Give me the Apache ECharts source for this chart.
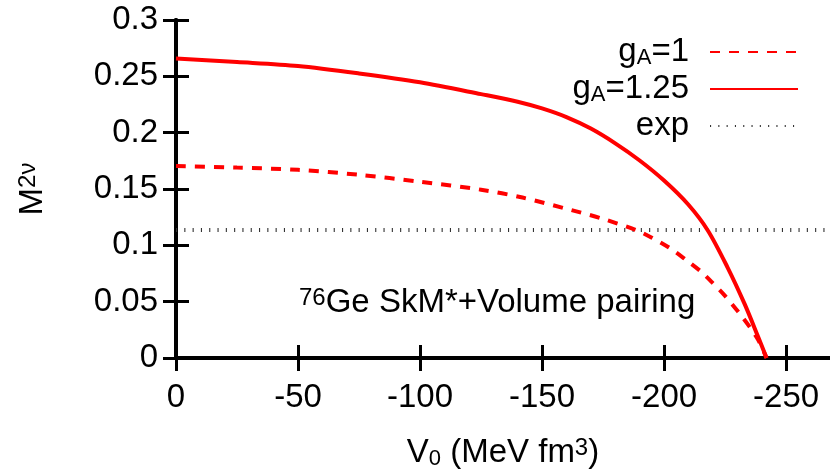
<!DOCTYPE html>
<html><head><meta charset="utf-8">
<script src="https://cdn.jsdelivr.net/npm/echarts@6/dist/echarts.min.js"></script>
<style>html,body{margin:0;padding:0;background:#fff}#c{width:830px;height:475px}</style>
</head><body><div id="c"></div>
<script>
// ---- data ----
const V_gA1 = [0, -25, -50, -75, -100, -125, -142, -162.5, -175, -188.4, -195, -202, -208.7, -215, -219.6, -225, -230.4, -235, -238.5, -242];
const M_gA1 = [0.1705, 0.1690, 0.1670, 0.1626, 0.1565, 0.1494, 0.1424, 0.1310, 0.1235, 0.1136, 0.1068, 0.0981, 0.0876, 0.0770, 0.0673, 0.0551, 0.0410, 0.0278, 0.0164, 0];
const V_gA125 = [0, -25, -50, -75, -100, -125, -140, -150, -160, -170, -180, -190, -200, -210, -218, -226, -233, -238.5, -242];
const M_gA125 = [0.2658, 0.2627, 0.2592, 0.2526, 0.2447, 0.2342, 0.2275, 0.2215, 0.2138, 0.2036, 0.1905, 0.1753, 0.1575, 0.1360, 0.1130, 0.0805, 0.0480, 0.0190, 0];
const V_exp = [0, -268];
const M_exp = [0.1135, 0.1135];
const xTicks = [0, -50, -100, -150, -200, -250];
const seriesNames = ['gA=1', 'gA=1.25', 'exp'];

const FONT = '"Liberation Sans", Arial, Helvetica, sans-serif';
const FS = 33;
const zip = (xs, ys) => xs.map((x, i) => [x, ys[i]]);
const n = {fontSize: FS, fontFamily: FONT, color: '#000', lineHeight: 34, verticalAlign: 'top'};
const sub = {fontSize: 22, fontFamily: FONT, color: '#000', lineHeight: 14, verticalAlign: 'bottom'};
const sup = {fontSize: 24, fontFamily: FONT, color: '#000', lineHeight: 19, verticalAlign: 'top'};
const rich = {n, s: sub, p: sup};
const legendLabels = {
  'gA=1': '{n|g}{s|A}{n|=1}',
  'gA=1.25': '{n|g}{s|A}{n|=1.25}',
  'exp': '{n|exp}'
};

const chart = echarts.init(document.getElementById('c'));
const axisLine = {show: true, lineStyle: {color: '#000', width: 4}};
const tick = {show: true, inside: true, length: 13, lineStyle: {color: '#000', width: 3}};
const noSym = {color: 'rgba(0,0,0,0)', borderWidth: 0};
chart.setOption({
  animation: false,
  backgroundColor: '#fff',
  grid: {left: 176, top: 20, width: 656, height: 342, containLabel: false},
  legend: {
    data: seriesNames,
    orient: 'vertical',
    right: 31, top: 35,
    align: 'right',
    padding: 0,
    itemGap: 3,
    itemWidth: 88,
    itemHeight: 14,
    selectedMode: false,
    itemStyle: noSym,
    formatter: name => legendLabels[name],
    textStyle: {rich, padding: [0, 16, 0, 0], fontSize: FS, fontFamily: FONT}
  },
  xAxis: [{
    type: 'value', min: -268, max: 0, inverse: true, position: 'bottom',
    axisLine, axisTick: Object.assign({customValues: xTicks}, tick),
    axisLabel: {customValues: xTicks, margin: 23, fontSize: FS, fontFamily: FONT, color: '#000'},
    splitLine: {show: false},
    name: '{n|V}{s|0}{n| (MeV fm}{p|3}{n|)}',
    nameLocation: 'middle', nameGap: 78,
    nameTextStyle: {rich, fontSize: FS, fontFamily: FONT, color: '#000'}
  }, {
    type: 'value', min: -268, max: 0, inverse: true, position: 'top',
    axisLine, axisTick: Object.assign({customValues: xTicks}, tick),
    axisLabel: {show: false}, splitLine: {show: false}
  }],
  yAxis: [{
    type: 'value', min: 0, max: 0.3, interval: 0.05, position: 'left',
    axisLine, axisTick: tick,
    axisLabel: {margin: 18, fontSize: FS, fontFamily: FONT, color: '#000'},
    splitLine: {show: false},
    name: '{n|M}{p|2ν}',
    nameLocation: 'middle', nameGap: 126, nameRotate: 90,
    nameTextStyle: {rich, fontSize: FS, fontFamily: FONT, color: '#000'}
  }, {
    type: 'value', min: 0, max: 0.3, interval: 0.05, position: 'right',
    axisLine, axisTick: tick, axisLabel: {show: false}, splitLine: {show: false}
  }],
  graphic: [{
    type: 'text', left: 299, top: 286, silent: true,
    style: {text: '{p|76}{n|Ge SkM*+Volume pairing}', rich}
  }],
  series: [{
    name: 'exp', type: 'line', symbol: 'none', z: 1,
    data: zip(V_exp, M_exp), itemStyle: noSym,
    lineStyle: {color: '#333', width: 4, type: [1.1, 7.2]}
  }, {
    name: 'gA=1', type: 'line', symbol: 'none', smooth: 0.3, z: 3,
    data: zip(V_gA1, M_gA1), itemStyle: noSym,
    lineStyle: {color: '#ff0000', width: 4, type: [10, 9]}
  }, {
    name: 'gA=1.25', type: 'line', symbol: 'none', smooth: 0.3, z: 3,
    data: zip(V_gA125, M_gA125), itemStyle: noSym,
    lineStyle: {color: '#ff0000', width: 4}
  }]
});
</script></body></html>
